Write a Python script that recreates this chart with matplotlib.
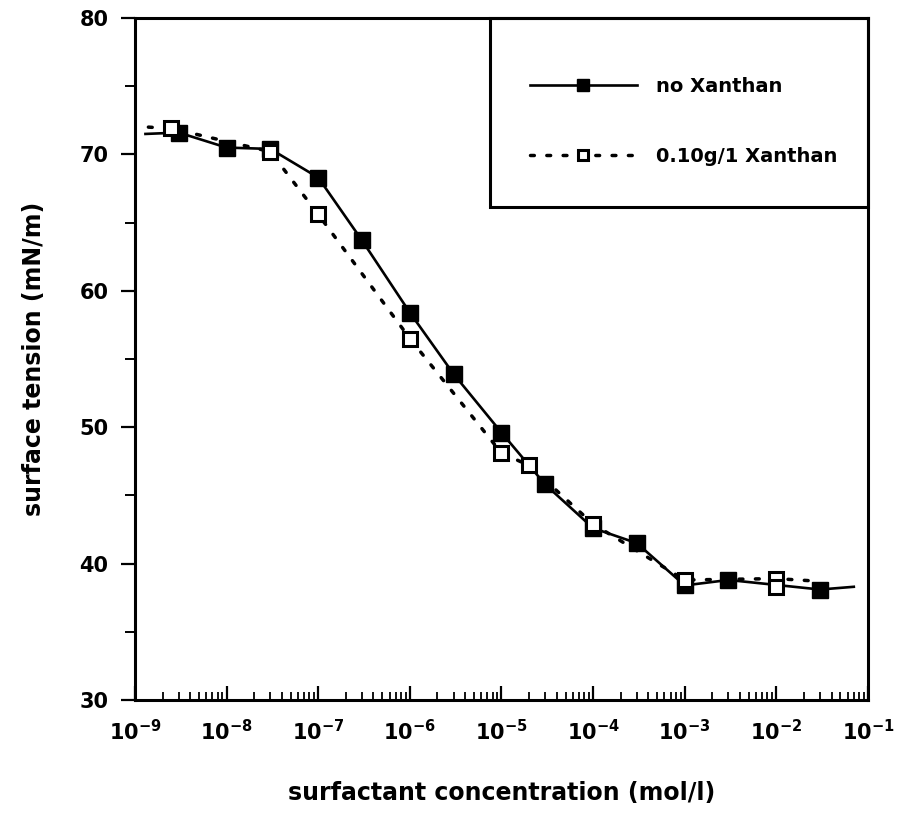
import matplotlib
matplotlib.use("Agg")
import matplotlib.pyplot as plt
import matplotlib.ticker as mticker
import numpy as np

plt.rcParams["font.family"] = ["DejaVu Sans"]
plt.rcParams["font.weight"] = "bold"
plt.rcParams["mathtext.default"] = "bf"

# surfactant alone
conc_plain = [3e-9, 1e-8, 3e-8, 1e-7, 3e-7, 1e-6, 3e-6, 1e-5, 3e-5,
              1e-4, 3e-4, 1e-3, 3e-3, 3e-2]
sigma_plain = [71.6, 70.5, 70.4, 68.3, 63.7, 58.4, 53.9, 49.6, 45.8,
               42.6, 41.5, 38.4, 38.8, 38.1]

# with 0.10 g/l xanthan
conc_xan = [2.5e-9, 3e-8, 1e-7, 1e-6, 1e-5, 2e-5, 1e-4, 1e-3, 1e-2]
sigma_xan = [71.9, 70.2, 65.6, 56.5, 48.1, 47.2, 42.9, 38.8, 38.9]
# repeat measurement at 1e-2
conc_xan_rep = [1e-2]
sigma_xan_rep = [38.3]

# curve ends (no markers)
plain_ends_c = [1.3e-9, 7e-2]
plain_ends_s = [71.5, 38.3]
xan_ends_c = [1.4e-9, 3e-2]
xan_ends_s = [72.0, 38.7]

fig = plt.figure(figsize=(9.04, 8.13), dpi=100)
ax = fig.add_axes([135 / 904, 1 - 700 / 813, 733 / 904, 682 / 813])

xc = [plain_ends_c[0]] + conc_plain + [plain_ends_c[1]]
ys = [plain_ends_s[0]] + sigma_plain + [plain_ends_s[1]]
l1, = ax.plot(xc, ys, "-", color="black", lw=1.9, marker="s", ms=11,
              mfc="black", mec="black", markevery=list(range(1, len(xc) - 1)),
              label="no Xanthan", zorder=3)

xc2 = [xan_ends_c[0]] + conc_xan + [xan_ends_c[1]]
ys2 = [xan_ends_s[0]] + sigma_xan + [xan_ends_s[1]]
l2, = ax.plot(xc2, ys2, color="black", lw=2.5, linestyle=(0, (1.1, 3.6)),
              dash_capstyle="round", marker="s", ms=10.5, mfc="white",
              mec="black", mew=2.2, markevery=list(range(1, len(xc2) - 1)),
              label="0.10g/1 Xanthan", zorder=4)
ax.plot(conc_xan_rep, sigma_xan_rep, "s", ms=10.5, mfc="white", mec="black",
        mew=2.2, zorder=4)

ax.set_xscale("log")
ax.set_xlim(1e-9, 1e-1)
ax.set_ylim(30, 80)

ax.xaxis.set_major_locator(mticker.LogLocator(base=10, numticks=20))
ax.xaxis.set_minor_locator(mticker.LogLocator(base=10, subs=np.arange(2, 10), numticks=20))
ax.xaxis.set_minor_formatter(mticker.NullFormatter())
ax.xaxis.set_major_formatter(mticker.FuncFormatter(
    lambda v, p: r"$\mathbf{10^{%d}}$" % round(np.log10(v))))
ax.yaxis.set_major_locator(mticker.MultipleLocator(10))
ax.yaxis.set_minor_locator(mticker.MultipleLocator(5))

ax.tick_params(axis="x", which="major", direction="in", length=10, width=1.6,
               labelsize=15, pad=14)
ax.tick_params(axis="x", which="minor", direction="in", length=6, width=1.3)
ax.tick_params(axis="y", which="major", direction="out", length=10, width=1.6,
               labelsize=15, pad=9)
ax.tick_params(axis="y", which="minor", direction="out", length=7, width=1.4)
for s in ax.spines.values():
    s.set_linewidth(2.2)

ax.set_xlabel("surfactant concentration (mol/l)", fontsize=17,
              fontweight="bold", labelpad=26)
ax.set_ylabel("surface tension (mN/m)", fontsize=17, fontweight="bold",
              labelpad=24)

# legend box in the top right corner
ax.add_patch(plt.Rectangle((355 / 733, 1 - 189 / 682), 378 / 733, 189 / 682,
                           transform=ax.transAxes, fill=False, lw=2.2,
                           ec="black", zorder=5, clip_on=False))
ax.legend(handles=[l1, l2], loc="center left",
          bbox_to_anchor=((520 - 135) / 733, (700 - 121.5) / 682),
          frameon=False, borderpad=0, handlelength=5.5, handletextpad=1.0,
          labelspacing=2.6, fontsize=14, markerscale=0.75)

fig.savefig("out.png", dpi=100)
